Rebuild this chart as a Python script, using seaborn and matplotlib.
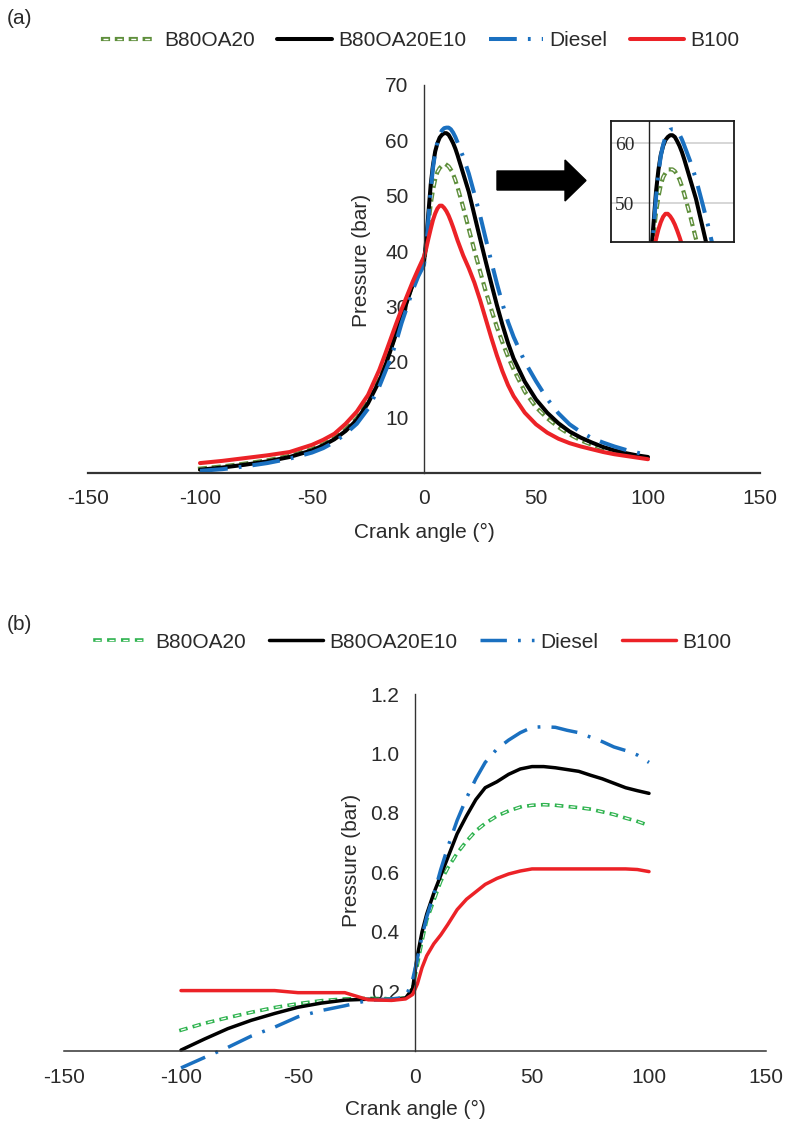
import matplotlib
matplotlib.use("Agg")
import matplotlib.pyplot as plt
import matplotlib.patheffects as pe
from matplotlib.patches import Polygon
import seaborn as sns

# ---------------- data ----------------
series_names = ["B80OA20", "B80OA20E10", "Diesel", "B100"]

# panel (a): in-cylinder pressure (bar)
angle_a = [-100, -90, -80, -70, -60, -50, -45, -40, -35, -30, -25, -20, -17.5, -15, -12.5, -10, -7.5, -5, -2.5, 0,
           1, 2, 3, 4, 5, 6, 7, 8, 9, 10, 11, 12, 13, 14, 15,
           17.5, 20, 22.5, 25, 27.5, 30, 32.5, 35, 37.5, 40,
           45, 50, 55, 60, 65, 70, 75, 80, 85, 90, 95, 100]
b80oa20_a = [0.7, 1.1, 1.6, 2.2, 3.0, 4.2, 5.1, 6.2, 7.8, 9.8, 12.8, 16.8, 19.3, 22.2, 25.2, 28.2, 31.2, 34, 36.2, 38,
             41, 45, 48.5, 51, 53, 54.3, 55, 55.4, 55.6, 55.6, 55.3, 54.7, 53.9, 52.8, 51.5,
             47.9, 44, 40.1, 36.4, 32.8, 29.5, 26.3, 23.5, 20.9, 18.6,
             14.6, 11.8, 9.8, 8.2, 6.9, 5.8, 5.0, 4.3, 3.8, 3.3, 2.9, 2.6]
b80oa20e10_a = [0.5, 0.9, 1.4, 2.0, 2.8, 4.0, 4.9, 6.0, 7.5, 9.5, 12.5, 16.5, 19, 22, 25, 28, 31, 34, 36, 38,
                42, 47, 52, 55.5, 58, 59.5, 60.5, 61, 61.3, 61.3, 61, 60.3, 59.5, 58.5, 57.3,
                54, 50.7, 46.5, 42.3, 38.2, 34.2, 30.3, 26.7, 23.4, 20.6,
                16.4, 13.2, 10.8, 8.9, 7.4, 6.3, 5.4, 4.6, 4.0, 3.5, 3.1, 2.8]
diesel_a = [0.3, 0.6, 1.1, 1.7, 2.5, 3.6, 4.4, 5.5, 7.0, 8.8, 11.5, 15.5, 18, 20.5, 23.5, 27, 30, 33, 35.5, 37.5,
            41, 46, 51, 55, 57.8, 59.7, 61, 61.8, 62.2, 62.3, 62.3, 62, 61.4, 60.6, 59.6,
            57, 54, 50.3, 46.5, 42.3, 38.2, 34.2, 30.5, 27.2, 24.5,
            20, 16.5, 13.3, 10.7, 8.7, 7.3, 6.2, 5.4, 4.7, 4.1, 3.6, 3.1]
b100_a = [1.7, 2.1, 2.6, 3.1, 3.7, 5.0, 5.9, 7.0, 8.8, 11, 14, 18.5, 21.2, 24, 26.8, 29.5, 32, 34.5, 36.8, 39,
          40.5, 42.3, 44, 45.6, 46.8, 47.7, 48.2, 48.2, 47.8, 47.2, 46.4, 45.4, 44.3, 43.1, 41.9,
          39.2, 36.9, 34.3, 31.2, 27.8, 24.4, 21.2, 18.3, 15.8, 13.8,
          10.8, 8.7, 7.2, 6.1, 5.3, 4.7, 4.2, 3.7, 3.3, 3.0, 2.7, 2.4]

# panel (b): pressure (bar)
angle_b = [-100, -90, -80, -70, -60, -50, -40, -30, -20, -10, -4, -1, 1, 3, 5, 8, 11, 14,
           18, 22, 26, 30, 35, 40, 45, 50, 55, 60, 65, 70, 75, 80, 85, 90, 95, 100]
b80oa20_b = [0.07, 0.093, 0.112, 0.13, 0.146, 0.159, 0.169, 0.175, 0.177, 0.175, 0.178, 0.21,
             0.29, 0.37, 0.44, 0.505, 0.57, 0.615, 0.665, 0.705, 0.74, 0.765,
             0.79, 0.807, 0.82, 0.826, 0.828, 0.826, 0.822, 0.818, 0.813, 0.804, 0.795, 0.783, 0.772, 0.758]
b80oa20e10_b = [0.003, 0.04, 0.075, 0.103, 0.126, 0.147, 0.161, 0.171, 0.174, 0.172, 0.178, 0.21,
                0.32, 0.40, 0.46, 0.53, 0.59, 0.65, 0.73, 0.79, 0.845, 0.885,
                0.905, 0.93, 0.948, 0.956, 0.956, 0.952, 0.946, 0.94, 0.927, 0.915, 0.90, 0.885, 0.875, 0.866]
diesel_b = [-0.057, -0.022, 0.012, 0.05, 0.08, 0.115, 0.136, 0.152, 0.170, 0.175, 0.18, 0.24,
            0.31, 0.385, 0.45, 0.525, 0.61, 0.685, 0.775, 0.85, 0.915, 0.97,
            1.015, 1.045, 1.07, 1.088, 1.09, 1.088, 1.078, 1.07, 1.055, 1.04, 1.022, 1.01, 0.995, 0.97]
b100_b = [0.203, 0.203, 0.203, 0.203, 0.203, 0.196, 0.196, 0.196, 0.172, 0.17, 0.175, 0.19,
          0.225, 0.28, 0.32, 0.36, 0.39, 0.425, 0.475, 0.51, 0.535, 0.56,
          0.58, 0.595, 0.605, 0.612, 0.612, 0.612, 0.612, 0.612, 0.612, 0.612, 0.612, 0.612, 0.61, 0.603]

x_ticks = [-150, -100, -50, 0, 50, 100, 150]
y_ticks_a = [10, 20, 30, 40, 50, 60, 70]
y_ticks_b = [0.2, 0.4, 0.6, 0.8, 1.0, 1.2]
inset_ticks = [50, 60]

# ---------------- style ----------------
sns.set_style("white")
plt.rcParams['font.family'] = ['Liberation Sans', 'DejaVu Sans']
plt.rcParams['lines.scale_dashes'] = False
plt.rcParams['axes.unicode_minus'] = False

GREEN_A = '#5f8f3c'
GREEN_B = '#2fb34f'
BLUE = '#1a70c0'
RED = '#ec2227'
TXT = '#2a2a2a'
FS = 15


def styles(green, lw, glw, dash):
    return {
        "B80OA20": dict(color='white', linewidth=glw[1], linestyle=(0, (3.6, 6.4)),
                        path_effects=[pe.Stroke(linewidth=glw[0], foreground=green,
                                                capstyle='projecting'), pe.Normal()]),
        "B80OA20E10": dict(color='black', linewidth=lw),
        "Diesel": dict(color=BLUE, linewidth=lw, linestyle=(0, dash)),
        "B100": dict(color=RED, linewidth=lw),
    }


def draw(ax, x, ys, st):
    for name, y in zip(series_names, ys):
        sns.lineplot(x=x, y=y, ax=ax, estimator=None, sort=False, **st[name])


fig = plt.figure(figsize=(7.85, 11.22), dpi=100)
W, H = 785.0, 1122.0
ax_a = fig.add_axes([88 / W, 1 - 472.5 / H, 672 / W, 387.5 / H])
ax_b = fig.add_axes([64 / W, 1 - 1071.8 / H, 702 / W, 377.8 / H])

st_a = styles(GREEN_A, 2.9, (3.0, 1.0), (20, 8, 2, 8))
st_b = styles(GREEN_B, 2.5, (2.6, 0.9), (19, 8, 2, 8))
draw(ax_a, angle_a, [b80oa20_a, b80oa20e10_a, diesel_a, b100_a], st_a)
draw(ax_b, angle_b, [b80oa20_b, b80oa20e10_b, diesel_b, b100_b], st_b)

ax_a.set_ylim(0, 70)
ax_b.set_ylim(-0.07, 1.2)
ax_a.set_yticks(y_ticks_a)
ax_b.set_yticks(y_ticks_b)
ax_b.set_yticklabels([f"{v:.1f}" for v in y_ticks_b])

for ax, lx, ly, xly, spine_lw in [(ax_a, 0.4077, 0.548, -0.156, 1.6),
                                  (ax_b, 0.41, 0.56, -0.101, 1.1)]:
    ax.set_xlim(-150, 150)
    ax.set_xticks(x_ticks)
    ax.spines['left'].set_position(('data', 0))
    ax.spines['bottom'].set_position(('data', 0))
    ax.spines['top'].set_visible(False)
    ax.spines['right'].set_visible(False)
    ax.spines['bottom'].set_color('#333333')
    ax.spines['left'].set_color('#333333')
    ax.spines['bottom'].set_linewidth(spine_lw)
    ax.spines['left'].set_linewidth(1.0)
    ax.tick_params(axis='both', length=0, labelsize=FS, labelcolor=TXT)
    ax.tick_params(axis='x', pad=12)
    ax.tick_params(axis='y', pad=11)
    ax.set_xlabel("Crank angle (°)", fontsize=FS, color=TXT)
    ax.set_ylabel("Pressure (bar)", fontsize=FS, color=TXT)
    ax.xaxis.set_label_coords(0.5, xly)
    ax.xaxis.label.set_va('center')
    ax.yaxis.set_label_coords(lx, ly)
    ax.yaxis.label.set_va('center')
    ax.patch.set_alpha(0)

ax_b.spines['left'].set_bounds(0, 1.2)

# legends
for ax, cx, cy in [(ax_a, 0.537, 1 - 41 / H), (ax_b, 0.526, 1 - 642 / H)]:
    handles = ax.get_lines()[:4]
    ax.legend(handles, series_names, loc='center', bbox_to_anchor=(cx, cy),
              bbox_transform=fig.transFigure, ncol=4, frameon=False, fontsize=FS,
              handlelength=2.6, handletextpad=0.3, columnspacing=1.1,
              borderpad=0, borderaxespad=0, labelcolor=TXT)

# inset (zoom of the peak)
ax_in = fig.add_axes([611 / W, 1 - 242 / H, 123 / W, 121 / H])
draw(ax_in, angle_a, [b80oa20_a, b80oa20e10_a, diesel_a, b100_a], st_a)
ax_in.set_xlim(-16.2, 36.2)
ax_in.set_ylim(43.5, 63.67)
ax_in.set_xticks([])
ax_in.set_yticks(inset_ticks)
ax_in.set_xlabel("")
ax_in.set_ylabel("")
ax_in.grid(axis='y', color='#cfcfcf', linewidth=1.2)
ax_in.set_axisbelow(True)
ax_in.axvline(0, color='#222222', linewidth=1.0, zorder=1.5)
for s in ax_in.spines.values():
    s.set_visible(True)
    s.set_color('#1a1a1a')
    s.set_linewidth(1.3)
ax_in.tick_params(axis='y', length=0, pad=-17, labelsize=14, labelcolor=TXT)
for t in ax_in.get_yticklabels():
    t.set_fontfamily(['Liberation Serif', 'DejaVu Serif'])
if ax_in.get_legend() is not None:
    ax_in.get_legend().remove()

# arrow pointing at the inset
arrow_px = [(497, 171), (565, 171), (565, 160), (586, 180.5), (565, 201), (565, 190), (497, 190)]
fig.add_artist(Polygon([(x / W, 1 - y / H) for x, y in arrow_px], closed=True,
                       transform=fig.transFigure, facecolor='black', edgecolor='black'))

fig.text(19 / W, 1 - 18 / H, "(a)", fontsize=FS, ha='center', va='center', color=TXT)
fig.text(19 / W, 1 - 625 / H, "(b)", fontsize=FS, ha='center', va='center', color=TXT)

fig.savefig("out.png", dpi=100, facecolor='white')
